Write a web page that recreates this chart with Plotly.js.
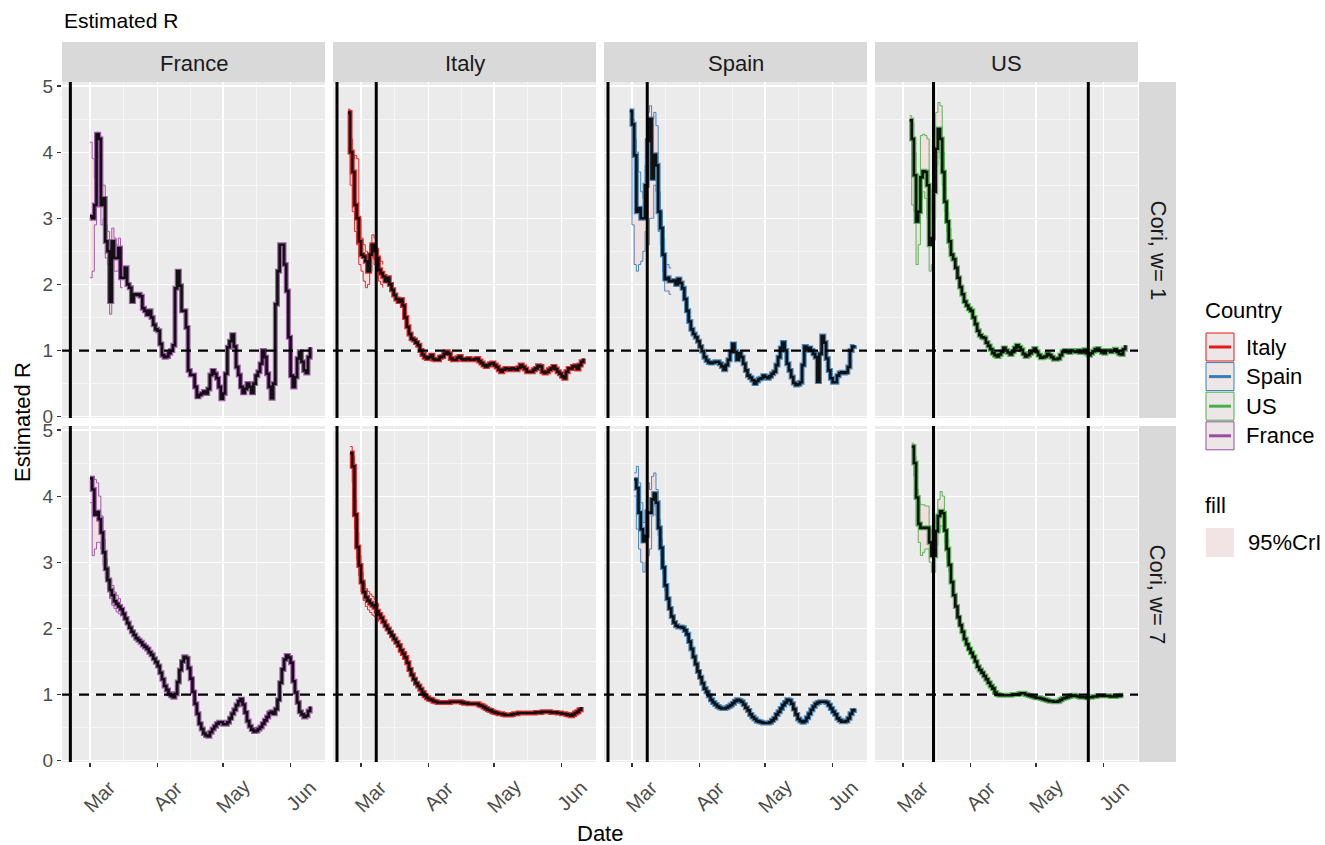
<!DOCTYPE html>
<html>
<head>
<meta charset="utf-8">
<script src="https://cdn.plot.ly/plotly-3.0.1.min.js"></script>
<style>
  html, body { margin: 0; padding: 0; background: #ffffff; }
  #chart { width: 1325px; height: 845px; }
</style>
</head>
<body>
<div id="chart"></div>
<script>
// ---- Estimated reproduction number R, Cori method, window 1 and 7 days ----
const countries = ['France', 'Italy', 'Spain', 'US'];
const windowLabels = ['Cori, w= 1', 'Cori, w= 7'];
const countryColors = { Italy: '#E41A1C', Spain: '#377EB8', US: '#4DAF4A', France: '#984EA3' };
const legendOrder = ['Italy', 'Spain', 'US', 'France'];
const monthTicks = ['2020-03-01', '2020-04-01', '2020-05-01', '2020-06-01'];
const monthLabels = ['Mar', 'Apr', 'May', 'Jun'];
const midMonthTicks = ['2020-03-16 12:00', '2020-04-16', '2020-05-16 12:00'];
const yTicks = [0, 1, 2, 3, 4, 5];
const dateRange = ['2020-02-17 04:00', '2020-06-16 19:00'];

// intervention dates marked with vertical lines
const eventDates = {
  France: ['2020-02-21'],
  Italy: ['2020-02-19', '2020-03-08'],
  Spain: ['2020-02-19', '2020-03-08'],
  US: ['2020-03-15', '2020-05-25']
};

// ---- window w = 1 : daily mean R, plus 95% CrI where it is wide ----
const franceW1Start = '2020-03-01';
const franceW1 = [3.03,3.0,3.2,4.27,4.2,3.2,3.3,2.65,2.5,1.74, 2.65,2.4,2.4,2.55,2.1,2.1,2.25,2.0,1.95,1.74,
  1.85,1.84,1.85,1.82,1.64,1.6,1.54,1.6,1.5,1.39, 1.32,1.3,1.1,0.93,0.9,0.91,0.96,1.0,1.08,1.94,
  2.2,1.98,1.6,1.6,1.35,0.7,0.63,0.63,0.45,0.3, 0.33,0.35,0.38,0.35,0.42,0.63,0.7,0.65,0.58,0.45,
  0.27,0.35,0.65,1.05,1.14,1.24,1.06,0.75,0.63,0.45, 0.36,0.42,0.5,0.45,0.36,0.5,0.62,0.68,0.8,1.0,
  0.9,0.65,0.45,0.28,0.5,1.7,2.2,2.6,2.6,2.3, 1.9,1.2,0.62,0.45,0.6,0.88,0.98,0.83,0.7,0.66, 0.9,1.05];
const franceW1Lo = [2.1,2.2,2.9,4.0,3.9,2.9,3.0,2.4,2.3,1.55,2.4,2.2,2.2,2.35,1.95,1.95];
const franceW1Hi = [4.15,3.9,3.6,4.3,4.25,3.5,3.5,2.9,2.8,2.0,2.85,2.7,2.6,2.7,2.25,2.25];

const italyW1Start = '2020-02-24';
const italyW1 = [4.6,4.0,3.7,3.2,3.0,2.65,
  2.45,2.42,2.35,2.2,2.45,2.6,2.5,2.4,2.22,2.17, 2.12,2.05,2.1,2.0,1.92,1.84,1.78,1.74,1.77,1.68,
  1.5,1.36,1.25,1.18,1.16,1.12,1.08,1.0,0.94,0.9, 0.88,0.9,0.93,0.87,0.86,0.86,0.9,0.91,0.95,0.98,
  0.95,0.88,0.86,0.86,0.89,0.91,0.87,0.86,0.87,0.88, 0.86,0.86,0.87,0.88,0.84,0.81,0.78,0.76,0.78,0.8,
  0.81,0.78,0.75,0.71,0.68,0.71,0.73,0.72,0.71,0.73, 0.72,0.71,0.74,0.78,0.75,0.72,0.68,0.68,0.68,0.71,
  0.73,0.77,0.76,0.68,0.66,0.68,0.71,0.73,0.76,0.72, 0.68,0.65,0.61,0.58,0.68,0.73,0.73,0.76,0.77,0.72,
  0.78,0.83,0.88];
const italyW1Lo = [4.4,3.5,3.1,2.8,2.6,2.3,2.2,2.05,1.95,2.0,2.2,2.4,2.3,2.2,2.05,2.0,1.95];
const italyW1Hi = [4.65,4.2,3.9,3.95,3.9,3.0,2.7,2.6,2.5,2.4,2.6,2.75,2.7,2.55,2.4,2.35,2.3];

const spainW1Start = '2020-02-29';
const spainW1 = [4.62,
  4.42,3.95,3.1,3.15,3.0,3.0,3.5,4.17,4.5,3.6, 3.96,3.8,3.1,2.85,2.45,2.08,2.1,2.05,2.05,2.06,
  2.0,2.08,2.02,1.94,1.78,1.6,1.44,1.32,1.25,1.2, 1.14,1.06,0.99,0.9,0.85,0.82,0.81,0.82,0.83,0.83,
  0.8,0.76,0.71,0.78,0.86,0.98,1.1,0.98,0.86,0.96, 0.9,0.8,0.7,0.62,0.59,0.55,0.5,0.54,0.57,0.58,
  0.62,0.6,0.58,0.61,0.65,0.68,0.78,0.9,1.04,1.12, 1.0,0.8,0.7,0.6,0.51,0.48,0.49,0.52,0.78,1.06,
  1.0,1.04,1.0,0.95,0.9,0.53,0.95,1.22,1.12,0.88, 0.7,0.58,0.52,0.52,0.62,0.66,0.67,0.66,0.67,0.75,
  1.0,1.06,1.08];
const spainW1Lo = [4.5,2.9,2.3,2.2,2.3,2.35,2.5,2.8,2.6,3.0,3.0,3.5,3.4,2.8,2.6,2.2,1.9,1.9,1.85,1.85];
const spainW1Hi = [4.65,4.5,4.2,4.0,3.7,3.4,3.3,3.8,4.6,4.7,4.5,4.6,4.4,3.4,3.1,2.7,2.3,2.3,2.25,2.25];

const usW1Start = '2020-03-04';
const usW1 = [4.48,4.2,3.65,2.95,3.1,3.62,3.71,3.7,3.5,2.6, 2.7,3.4,4.05,4.35,4.2,3.7,3.25,2.95,2.65,2.45,
  2.38,2.25,2.1,1.96,1.85,1.74,1.68,1.63,1.6,1.5, 1.4,1.3,1.23,1.2,1.19,1.12,1.07,1.02,0.96,0.93,
  0.91,0.94,0.98,1.04,1.0,0.97,0.94,0.98,1.04,1.08, 1.05,1.01,0.95,0.91,0.93,0.96,0.99,1.03,0.98,0.93,
  0.89,0.9,0.91,0.95,0.93,0.9,0.87,0.87,0.88,0.93, 0.98,1.0,0.98,0.97,1.0,0.99,0.98,1.0,0.97,0.97,
  1.01,0.96,0.93,0.96,0.99,1.02,1.03,1.0,0.97,0.96, 1.0,1.0,0.98,1.0,1.02,0.98,0.95,0.94,1.02,1.08];
const usW1Lo = [4.3,3.2,3.1,2.3,2.6,3.3,3.4,3.3,3.0,2.2,2.3,3.0,3.8,4.0,3.9,3.5,3.1,2.8,2.55,2.35];
const usW1Hi = [4.55,4.45,4.0,3.3,3.6,4.25,4.27,4.25,4.2,3.3,3.1,3.8,4.6,4.75,4.7,4.0,3.45,3.1,2.85,2.6];

// ---- window w = 7 ----
const franceW7Start = '2020-03-01';
const franceW7 = [4.27,4.1,3.72,3.76,3.65,3.45,3.15,2.9,2.73,2.58, 2.5,2.41,2.37,2.33,2.29,2.22,2.15,2.08,2.01,1.95,
  1.9,1.85,1.82,1.79,1.75,1.72,1.69,1.64,1.6,1.54, 1.49,1.43,1.33,1.23,1.13,1.07,1.01,0.98,0.96,1.01,
  1.19,1.37,1.5,1.57,1.55,1.4,1.24,1.04,0.86,0.71, 0.56,0.48,0.41,0.38,0.37,0.43,0.48,0.52,0.56,0.58,
  0.58,0.55,0.55,0.58,0.64,0.71,0.77,0.84,0.9,0.93, 0.85,0.73,0.6,0.52,0.47,0.44,0.45,0.48,0.51,0.56,
  0.61,0.66,0.72,0.74,0.71,0.78,0.92,1.18,1.38,1.53, 1.59,1.56,1.48,1.2,1.03,0.88,0.74,0.7,0.66,0.68, 0.75,0.82];
const franceW7Lo = [3.9,3.1,3.2,3.3,3.3,3.2,2.95,2.75,2.6,2.45,2.35,2.3,2.25,2.22,2.18];
const franceW7Hi = [4.3,4.3,4.25,4.2,4.0,3.7,3.35,3.05,2.9,2.75,2.65,2.55,2.5,2.45,2.4];

const italyW7Start = '2020-02-25';
const italyW7 = [4.65,4.45,3.72,3.23,2.95,
  2.7,2.55,2.47,2.42,2.38,2.35,2.32,2.26,2.21,2.16, 2.1,2.04,1.99,1.94,1.89,1.84,1.79,1.74,1.67,1.62,
  1.56,1.48,1.38,1.3,1.23,1.17,1.13,1.08,1.03,0.98, 0.95,0.93,0.92,0.9,0.89,0.88,0.88,0.88,0.88,0.88,
  0.88,0.89,0.89,0.89,0.89,0.89,0.88,0.87,0.87,0.86, 0.86,0.86,0.86,0.86,0.84,0.83,0.81,0.79,0.77,0.76,
  0.74,0.73,0.72,0.71,0.71,0.7,0.69,0.69,0.69,0.7, 0.71,0.71,0.72,0.72,0.72,0.72,0.72,0.72,0.72,0.72,
  0.73,0.73,0.73,0.74,0.74,0.74,0.74,0.73,0.73,0.73, 0.72,0.72,0.71,0.71,0.7,0.69,0.68,0.7,0.72,0.74,
  0.77,0.81];
const italyW7Lo = [4.5,4.2,3.5,3.05,2.8,2.55,2.42,2.33,2.28,2.24,2.2,2.18,2.14,2.1];
const italyW7Hi = [4.75,4.6,3.95,3.45,3.1,2.85,2.68,2.6,2.56,2.52,2.48,2.44,2.38,2.33];

const spainW7Start = '2020-03-02';
const spainW7 = [4.25,4.12,3.75,3.5,3.32,3.4,3.75,3.75,3.95,4.04, 3.9,3.52,3.22,2.92,2.65,2.45,2.3,2.18,2.09,2.04,
  2.02,2.02,2.01,1.97,1.91,1.8,1.69,1.57,1.46,1.35, 1.26,1.17,1.09,1.04,0.98,0.92,0.88,0.85,0.82,0.8,
  0.79,0.79,0.8,0.82,0.84,0.87,0.9,0.92,0.91,0.89, 0.85,0.8,0.76,0.7,0.66,0.63,0.6,0.59,0.58,0.57,
  0.57,0.57,0.58,0.61,0.64,0.7,0.74,0.79,0.84,0.88, 0.92,0.91,0.86,0.78,0.7,0.63,0.6,0.58,0.6,0.65,
  0.71,0.77,0.82,0.86,0.88,0.89,0.89,0.89,0.88,0.84, 0.79,0.74,0.7,0.64,0.61,0.59,0.59,0.6,0.64,0.71, 0.76,0.79];
const spainW7Lo = [4.0,3.5,3.2,3.0,2.85,3.0,3.1,3.2,3.7,3.85,3.7,3.4,3.1,2.82,2.56];
const spainW7Hi = [4.35,4.45,4.2,3.9,3.6,3.8,4.2,4.1,4.3,4.35,4.1,3.65,3.35,3.02,2.74];

const usW7Start = '2020-03-05';
const usW7 = [4.75,4.5,3.98,3.58,3.52,3.52,3.52,3.52,3.3,3.1, 3.1,3.47,3.7,3.77,3.74,3.48,3.2,2.96,2.7,2.5,
  2.33,2.17,2.05,1.95,1.84,1.76,1.69,1.63,1.57,1.5, 1.42,1.37,1.33,1.28,1.23,1.18,1.13,1.09,1.03,1.0,
  0.99,0.99,0.99,0.99,0.99,0.99,1.0,1.0,1.0,1.01, 1.02,1.02,1.0,0.99,0.98,0.97,0.96,0.95,0.95,0.94,
  0.93,0.92,0.91,0.9,0.9,0.89,0.89,0.9,0.92,0.94, 0.95,0.96,0.97,0.98,0.99,0.98,0.97,0.96,0.96,0.96,
  0.95,0.96,0.96,0.97,0.97,0.98,0.98,0.98,0.98,0.98, 0.98,0.97,0.97,0.97,0.98,0.98,0.99,0.99];
const usW7Lo = [4.7,4.3,3.55,3.3,3.1,3.15,3.2,3.2,3.0,2.85,2.85,3.25,3.45,3.55,3.5,3.3,3.05,2.85];
const usW7Hi = [4.8,4.6,4.1,3.9,3.87,3.87,3.85,3.85,3.5,3.2,3.25,3.7,3.95,4.07,4.0,3.7,3.35,3.1];

// panels by [window][country]
const series = [
  { France: [franceW1Start, franceW1, franceW1Lo, franceW1Hi], Italy: [italyW1Start, italyW1, italyW1Lo, italyW1Hi],
    Spain: [spainW1Start, spainW1, spainW1Lo, spainW1Hi], US: [usW1Start, usW1, usW1Lo, usW1Hi] },
  { France: [franceW7Start, franceW7, franceW7Lo, franceW7Hi], Italy: [italyW7Start, italyW7, italyW7Lo, italyW7Hi],
    Spain: [spainW7Start, spainW7, spainW7Lo, spainW7Hi], US: [usW7Start, usW7, usW7Lo, usW7Hi] }
];

// ---- page geometry (pixels) ----
const W = 1325, H = 845;
const colPx = [[62, 325], [333, 596], [604, 867], [875, 1138]];
const rowPx = [[82, 418], [426, 762]];
const stripTop = [42, 82];
const stripRight = [1139, 1176];
const px = v => v / W;
const py = v => 1 - v / H;
const FONT = 'Liberation Sans, Arial, sans-serif';

function dailyDates(start, n) {
  const t0 = Date.parse(start + 'T00:00:00Z');
  return Array.from({ length: n }, (_, i) => new Date(t0 + i * 864e5).toISOString().slice(0, 10));
}

const traces = [];
const layout = {
  width: W, height: H,
  margin: { l: 0, r: 0, t: 0, b: 0 },
  paper_bgcolor: '#FFFFFF',
  plot_bgcolor: '#EBEBEB',
  showlegend: false,
  font: { family: FONT, color: '#1A1A1A' },
  shapes: [],
  annotations: []
};

for (let r = 0; r < 2; r++) {
  for (let c = 0; c < 4; c++) {
    const k = r * 4 + c + 1;
    const ax = k === 1 ? '' : String(k);
    const country = countries[c];
    const col = countryColors[country];
    const [start, mean, lo, hi] = series[r][country];
    const xMean = dailyDates(start, mean.length);
    const xBand = xMean.slice(0, lo.length);
    const common = { xaxis: 'x' + ax, yaxis: 'y' + ax, mode: 'lines', hoverinfo: 'skip' };

    traces.push(Object.assign({}, common, {
      x: xBand, y: lo, line: { color: col, width: 0.9, shape: 'hv' }
    }));
    traces.push(Object.assign({}, common, {
      x: xBand, y: hi, line: { color: col, width: 0.9, shape: 'hv' },
      fill: 'tonexty', fillcolor: 'rgba(255,200,200,0.35)'
    }));
    traces.push(Object.assign({}, common, {
      x: xMean, y: mean, line: { color: col, width: 5, shape: 'hv' }, opacity: 0.9
    }));
    traces.push(Object.assign({}, common, {
      x: xMean, y: mean, line: { color: '#111111', width: 2.6, shape: 'hv' }
    }));

    layout['xaxis' + ax] = {
      type: 'date', domain: [px(colPx[c][0]), px(colPx[c][1])], range: dateRange,
      anchor: 'y' + ax, tickmode: 'array', tickvals: monthTicks, showticklabels: false,
      ticks: r === 1 ? 'outside' : '', ticklen: 4, tickwidth: 1.1, tickcolor: '#333333',
      showgrid: true, gridcolor: '#FFFFFF', gridwidth: 1.1, zeroline: false, showline: false,
      minor: { tickmode: 'array', tickvals: midMonthTicks, showgrid: true, gridcolor: '#FFFFFF', gridwidth: 0.55, ticks: '' },
      fixedrange: true
    };
    layout['yaxis' + ax] = {
      domain: [py(rowPx[r][1]), py(rowPx[r][0])], range: [-0.02, 5.06],
      anchor: 'x' + ax, tickmode: 'array', tickvals: yTicks, showticklabels: c === 0,
      ticks: c === 0 ? 'outside' : '', ticklen: 4, tickwidth: 1.1, tickcolor: '#333333',
      tickfont: { family: FONT, size: 19, color: '#4D4D4D' },
      showgrid: true, gridcolor: '#FFFFFF', gridwidth: 1.1, zeroline: false, showline: false,
      minor: { tickmode: 'array', tickvals: [0.5, 1.5, 2.5, 3.5, 4.5], showgrid: true, gridcolor: '#FFFFFF', gridwidth: 0.55, ticks: '' },
      fixedrange: true
    };

    // reference line R = 1
    layout.shapes.push({
      type: 'line', xref: 'x' + ax + ' domain', yref: 'y' + ax, x0: 0, x1: 1, y0: 1, y1: 1,
      line: { color: '#000000', width: 2.2, dash: '10px,7px' }
    });
    // intervention dates
    eventDates[country].forEach(d => layout.shapes.push({
      type: 'line', xref: 'x' + ax, yref: 'y' + ax + ' domain', x0: d, x1: d, y0: 0, y1: 1,
      line: { color: '#000000', width: 3 }
    }));

    // month labels under the bottom row
    if (r === 1) {
      monthTicks.forEach((m, i) => layout.annotations.push({
        x: m, xref: 'x' + ax, y: py(796), yref: 'paper', text: monthLabels[i],
        textangle: -45, showarrow: false, xanchor: 'center', yanchor: 'middle', xshift: 10,
        font: { family: FONT, size: 20, color: '#4D4D4D' }
      }));
    }
  }
}

// facet strips
countries.forEach((name, c) => {
  layout.shapes.push({
    type: 'rect', xref: 'paper', yref: 'paper', layer: 'below',
    x0: px(colPx[c][0]), x1: px(colPx[c][1]), y0: py(stripTop[1]), y1: py(stripTop[0]),
    fillcolor: '#D9D9D9', line: { width: 0 }
  });
  layout.annotations.push({
    x: px((colPx[c][0] + colPx[c][1]) / 2), y: py(63), xref: 'paper', yref: 'paper',
    text: name, showarrow: false, xanchor: 'center', yanchor: 'middle',
    font: { family: FONT, size: 22, color: '#1A1A1A' }
  });
});
windowLabels.forEach((name, r) => {
  layout.shapes.push({
    type: 'rect', xref: 'paper', yref: 'paper', layer: 'below',
    x0: px(stripRight[0]), x1: px(stripRight[1]), y0: py(rowPx[r][1]), y1: py(rowPx[r][0]),
    fillcolor: '#D9D9D9', line: { width: 0 }
  });
  layout.annotations.push({
    x: px((stripRight[0] + stripRight[1]) / 2), y: py((rowPx[r][0] + rowPx[r][1]) / 2),
    xref: 'paper', yref: 'paper', text: name, textangle: 90, showarrow: false,
    xanchor: 'center', yanchor: 'middle', font: { family: FONT, size: 22, color: '#1A1A1A' }
  });
});

// titles
layout.annotations.push(
  { x: px(62), y: py(21), xref: 'paper', yref: 'paper', text: 'Estimated R', showarrow: false,
    xanchor: 'left', yanchor: 'middle', font: { family: FONT, size: 21, color: '#000000' } },
  { x: px(22), y: py(422), xref: 'paper', yref: 'paper', text: 'Estimated R', textangle: -90, showarrow: false,
    xanchor: 'center', yanchor: 'middle', font: { family: FONT, size: 22, color: '#000000' } },
  { x: px(600), y: py(833), xref: 'paper', yref: 'paper', text: 'Date', showarrow: false,
    xanchor: 'center', yanchor: 'middle', font: { family: FONT, size: 22, color: '#000000' } }
);

// legend: Country keys and the credible-interval fill key
const legX0 = 1206, legX1 = 1234, keyH = 28, keyStep = 29.6, keyTop0 = 333;
layout.annotations.push({
  x: px(1203), y: py(310), xref: 'paper', yref: 'paper', text: 'Country', showarrow: false,
  xanchor: 'left', yanchor: 'middle', font: { family: FONT, size: 22, color: '#000000' }
});
legendOrder.forEach((name, i) => {
  const top = keyTop0 + i * keyStep, mid = top + keyH / 2;
  const col = countryColors[name];
  layout.shapes.push(
    { type: 'rect', xref: 'paper', yref: 'paper', x0: px(legX0), x1: px(legX1), y0: py(top + keyH), y1: py(top),
      fillcolor: '#ECE6E6', line: { color: col, width: 1 } },
    { type: 'line', xref: 'paper', yref: 'paper', x0: px(legX0 + 3), x1: px(legX1 - 3), y0: py(mid), y1: py(mid),
      line: { color: col, width: 3 } }
  );
  layout.annotations.push({
    x: px(1244), y: py(mid), xref: 'paper', yref: 'paper', text: name, showarrow: false,
    xanchor: 'left', yanchor: 'middle', font: { family: FONT, size: 22, color: '#000000' }
  });
});
layout.annotations.push({
  x: px(1203), y: py(505), xref: 'paper', yref: 'paper', text: 'fill', showarrow: false,
  xanchor: 'left', yanchor: 'middle', font: { family: FONT, size: 22, color: '#000000' }
});
layout.shapes.push({
  type: 'rect', xref: 'paper', yref: 'paper', x0: px(legX0), x1: px(legX1), y0: py(557), y1: py(528),
  fillcolor: '#F2E4E4', line: { width: 0 }
});
layout.annotations.push({
  x: px(1246), y: py(542), xref: 'paper', yref: 'paper', text: '95%CrI', showarrow: false,
  xanchor: 'left', yanchor: 'middle', font: { family: FONT, size: 22, color: '#000000' }
});

Plotly.newPlot('chart', traces, layout, { staticPlot: true, displayModeBar: false });
</script>
</body>
</html>
